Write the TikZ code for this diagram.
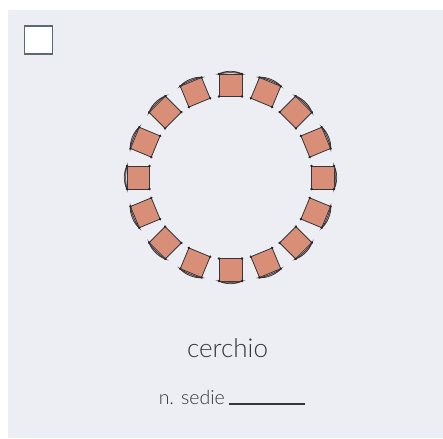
\documentclass[tikz,border=0pt]{standalone}
\usepackage{fontspec}
\setmainfont{Lato Light}
\usepackage{xcolor}
\usetikzlibrary{positioning}
\definecolor{panelgray}{HTML}{ECEEF3}
\definecolor{seatred}{HTML}{D98E78}
\definecolor{inkgray}{HTML}{33363A}
\definecolor{boxslate}{HTML}{5A6B75}
\begin{document}
\begin{tikzpicture}[
    x=1pt, y=-1pt,
    label/.style={text=inkgray, inner sep=0pt, anchor=base},
    seat/.style={draw=inkgray, fill=seatred, line width=0.8pt},
    pics/chair/.style={code={
      \path[seat] (-11.5,-11) rectangle (11.5,11.5);
      \path[draw=inkgray, fill=seatred, line width=0.7pt]
        (-12,-11) .. controls (-5,-14.6) and (5,-14.6) .. (12,-11)
        .. controls (5,-12.6) and (-5,-12.6) .. (-12,-11) -- cycle;
      \foreach \cx/\cy in {-11.5/-11, 11.5/-11, -11.5/11.5, 11.5/11.5}
        \fill[black!85] (\cx,\cy) circle (1.4);
    }}]
    \useasboundingbox (0,0) rectangle (443,438);
    \fill[panelgray] (8,10) rectangle (443,438);
    \node[draw=boxslate, fill=white, line width=1.2pt, minimum size=28pt, inner sep=0pt] (box) at (38.5,40) {};
    % sedie in cerchio
    \foreach \n in {0,...,15}
      \pic[rotate=-\n*22.5] at ({230.5+92.5*sin(\n*22.5)},{177.5-92.5*cos(\n*22.5)}) {chair};
    \node[label, font=\fontsize{26}{26}\selectfont] (name) at (227.5,357) {cerchio};
    \node[label, font=\fontsize{19.5}{19.5}\selectfont, anchor=base east] (seats) at (225,404) {n. sedie};
    \coordinate (blankstart) at (229,404);
    \coordinate (blankend) at (305,404);
    \draw[inkgray, line width=1.1pt] (blankstart) -- (blankend);
\end{tikzpicture}
\end{document}
